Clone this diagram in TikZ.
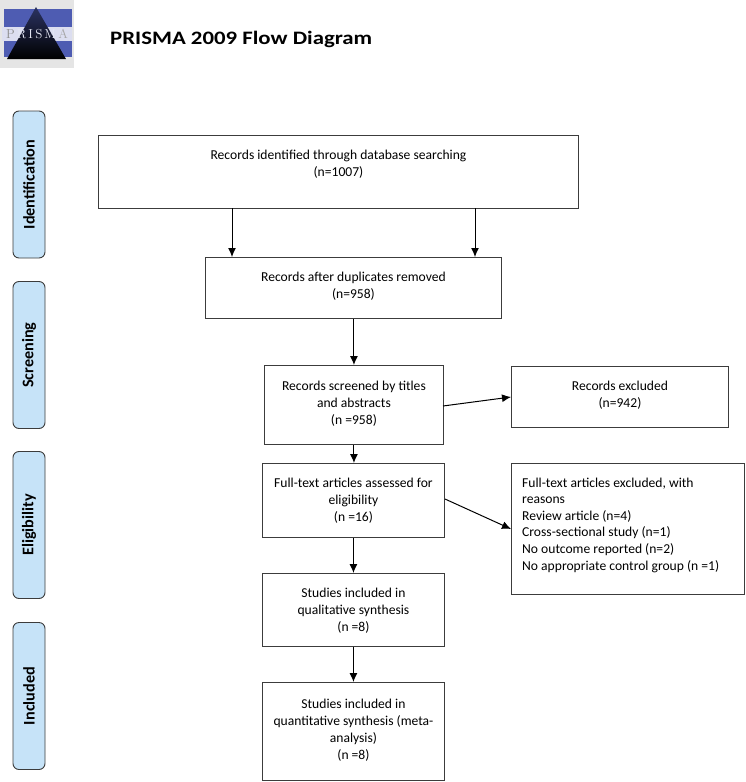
\documentclass[tikz,border=0pt]{standalone}
\usepackage{fontspec}
\setmainfont{Carlito}
\usetikzlibrary{arrows.meta,shapes.misc}
\definecolor{phase}{RGB}{198,227,248}
\definecolor{edge}{RGB}{60,60,60}
\definecolor{band}{RGB}{78,92,178}
\tikzset{
  flowbox/.style={draw=edge,line width=0.9pt,fill=white,align=center,font=\fontsize{13.6}{17}\selectfont,inner sep=0pt,anchor=north west},
  phasebox/.style={draw=edge,line width=0.9pt,fill=phase,rounded corners=6pt,inner sep=0pt,minimum width=147pt,minimum height=32pt,rotate=90,font=\fontsize{16.2}{17}\selectfont\bfseries},
  link/.style={draw=black,line width=1pt,-{Latex[length=9pt,width=8pt]}}
}
\begin{document}
\begin{tikzpicture}[x=1pt,y=-1pt]
\useasboundingbox (0,0) rectangle (746,782);
% logo
\fill[black!10] (0,0) rectangle (74,68);
\fill[band] (4,9) rectangle (72,57);
\fill[white!80!band] (2,27) rectangle (72,41);
\shade[top color=band!55!black,bottom color=black] (36,7) -- (7,59) -- (66,59) -- cycle;
\node[text=white!85!band,font=\fontfamily{lmr}\fontsize{13}{13}\selectfont,inner sep=0pt] (logotext) at (37,34) {{\color{black!45}P}\,R\,I\,S\,M\,{\color{black!35}A}};
% title
\node[font=\fontsize{19}{20}\selectfont\bfseries,inner sep=0pt,anchor=west,xscale=1.2] (title) at (110,39) {PRISMA 2009 Flow Diagram};
% phases
\node[phasebox] (ph1) at (29,184.5) {Identification};
\node[phasebox] (ph2) at (29,355) {Screening};
\node[phasebox] (ph3) at (29,525) {Eligibility};
\node[phasebox] (ph4) at (29,696) {Included};
% boxes
\node[flowbox,text depth=17pt,minimum width=480pt,minimum height=73pt] (a) at (98,135) {Records identified through database searching\\(n=1007)};
\node[flowbox,text depth=5pt,minimum width=296pt,minimum height=61pt] (b) at (205,257) {Records after duplicates removed\\(n=958)};
\node[flowbox,text depth=5pt,minimum width=179pt,minimum height=79pt] (c) at (264,365) {Records screened by titles\\and abstracts\\(n =958)};
\node[flowbox,text depth=5pt,minimum width=217pt,minimum height=61pt] (d) at (511,366) {Records excluded\\(n=942)};
\node[flowbox,minimum width=182pt,minimum height=74pt] (e) at (262,463) {Full-text articles assessed for\\eligibility\\(n =16)};
\node[flowbox,minimum width=233pt,minimum height=131pt,align=left,anchor=north west] (f) at (511,463) {};
\node[font=\fontsize{13.6}{16.6}\selectfont,align=left,inner sep=0pt,anchor=north west] (ftext) at (522,477.5) {Full-text articles excluded, with\\reasons\\Review article (n=4)\\Cross-sectional study (n=1)\\No outcome reported (n=2)\\No appropriate control group (n =1)};
\node[flowbox,text depth=1pt,minimum width=182pt,minimum height=73pt] (g) at (262,573) {Studies included in\\qualitative synthesis\\(n =8)};
\node[flowbox,text depth=5pt,minimum width=182pt,minimum height=98pt] (h) at (262,682) {Studies included in\\quantitative synthesis (meta-\\analysis)\\(n =8)};
% connectors
\coordinate (axl) at (232,208);
\coordinate (axr) at (475,208);
\draw[link] (axl) -- (axl |- b.north);
\draw[link] (axr) -- (axr |- b.north);
\draw[link] (b.south -| c.north) -- (c.north);
\draw[link] (c.south) -- (e.north -| c.south);
\draw[link] (e.south) -- (g.north);
\draw[link] (g.south) -- (h.north);
\coordinate (cout) at (443,406);
\coordinate (dinn) at (511,397);
\coordinate (eout) at (445,499);
\coordinate (finn) at (511,529);
\draw[link] (cout) -- (dinn);
\draw[link] (eout) -- (finn);
\end{tikzpicture}
\end{document}
